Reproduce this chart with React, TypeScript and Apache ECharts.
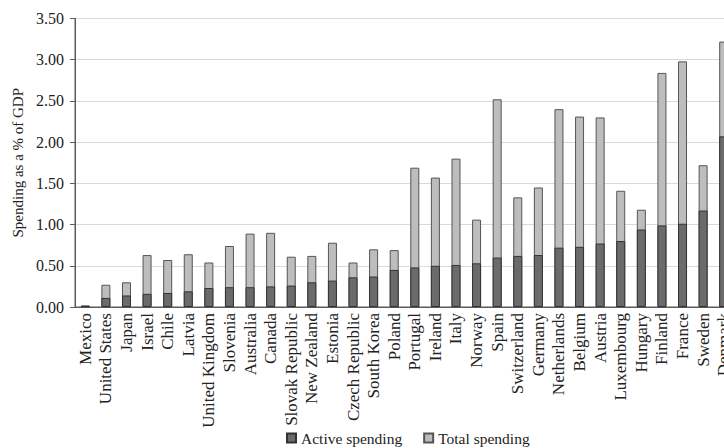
import React, { useEffect, useRef } from "react";
import * as echarts from "echarts";

const countries = [
  "Mexico", "United States", "Japan", "Israel", "Chile", "Latvia", "United Kingdom",
  "Slovenia", "Australia", "Canada", "Slovak Republic", "New Zealand", "Estonia",
  "Czech Republic", "South Korea", "Poland", "Portugal", "Ireland", "Italy", "Norway",
  "Spain", "Switzerland", "Germany", "Netherlands", "Belgium", "Austria", "Luxembourg",
  "Hungary", "Finland", "France", "Sweden", "Denmark",
];

const activeSpending = [
  0.01, 0.11, 0.14, 0.16, 0.17, 0.19, 0.23, 0.24, 0.24, 0.25, 0.26, 0.30, 0.32,
  0.36, 0.37, 0.45, 0.48, 0.50, 0.51, 0.53, 0.60, 0.62, 0.63, 0.72, 0.73, 0.77,
  0.80, 0.94, 0.99, 1.01, 1.17, 2.07,
];

const totalSpending = [
  0.02, 0.27, 0.30, 0.63, 0.57, 0.64, 0.54, 0.74, 0.89, 0.90, 0.61, 0.62, 0.78,
  0.54, 0.70, 0.69, 1.69, 1.57, 1.80, 1.06, 2.52, 1.33, 1.45, 2.40, 2.31, 2.30,
  1.41, 1.18, 2.84, 2.98, 1.72, 3.22,
];

const yTicks = ["0.00", "0.50", "1.00", "1.50", "2.00", "2.50", "3.00", "3.50"];

const FONT = "'Liberation Serif', 'Times New Roman', serif";

export default function App() {
  const ref = useRef<HTMLDivElement>(null);
  useEffect(() => {
    if (!ref.current) return;
    const chart = echarts.init(ref.current, null, { renderer: "svg" });
    chart.setOption({
      animation: false,
      backgroundColor: "#ffffff",
      textStyle: { fontFamily: FONT },
      grid: {
        left: 75,
        top: 18.5,
        bottom: 141,
        right: 0,
        show: true,
        borderColor: "#5a5a5a",
        borderWidth: 1,
        containLabel: false,
      },
      legend: {
        data: ["Active spending", "Total spending"],
        left: 281,
        top: 425,
        itemWidth: 9,
        itemHeight: 9,
        itemGap: 21,
        icon: "rect",
        textStyle: { fontFamily: FONT, fontSize: 15.5, color: "#222" },
      },
      xAxis: {
        type: "category",
        data: countries,
        axisLine: { lineStyle: { color: "#5a5a5a", width: 1 } },
        axisTick: { show: false },
        axisLabel: {
          rotate: 90,
          interval: 0,
          margin: 6,
          fontFamily: FONT,
          fontSize: 17,
          color: "#222",
        },
      },
      yAxis: {
        type: "value",
        min: 0,
        max: 3.5,
        interval: 0.5,
        name: "Spending as a % of GDP",
        nameLocation: "middle",
        nameGap: 50,
        nameTextStyle: { fontFamily: FONT, fontSize: 15, color: "#222" },
        axisLine: { show: true, lineStyle: { color: "#5a5a5a", width: 1 } },
        axisTick: { show: true, length: 5, lineStyle: { color: "#5a5a5a" } },
        splitLine: { lineStyle: { color: "#d9d9d9", width: 1 } },
        axisLabel: {
          margin: 11,
          fontFamily: FONT,
          fontSize: 16,
          color: "#222",
          formatter: (v: number) => yTicks[Math.round(v / 0.5)] ?? v.toFixed(2),
        },
      },
      series: [
        {
          name: "Total spending",
          type: "bar",
          data: totalSpending,
          barWidth: 9,
          barGap: "-100%",
          itemStyle: { color: "#bdbdbd", borderColor: "#555555", borderWidth: 1 },
        },
        {
          name: "Active spending",
          type: "bar",
          data: activeSpending,
          barWidth: 9,
          barGap: "-100%",
          itemStyle: { color: "#6b6b6b", borderColor: "#333333", borderWidth: 1 },
        },
      ],
    });
    return () => chart.dispose();
  }, []);
  return (
    <div
      style={{
        position: "fixed",
        left: 0,
        top: 0,
        width: 724,
        height: 448,
        overflow: "hidden",
        background: "#fff",
      }}
    >
      <div ref={ref} style={{ width: 734, height: 448 }} />
    </div>
  );
}
